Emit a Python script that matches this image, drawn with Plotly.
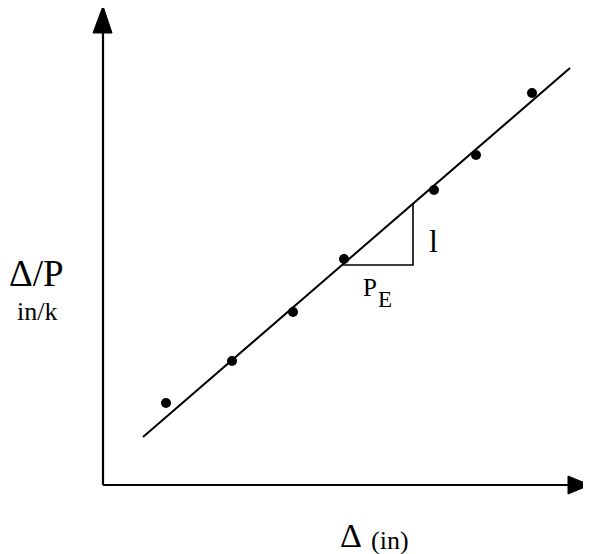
import plotly.graph_objects as go

# data (arbitrary units, origin at axis corner)
pts_x = [0.63, 1.29, 1.90, 2.41, 3.31, 3.73, 4.29]
pts_y = [0.82, 1.24, 1.73, 2.26, 2.95, 3.30, 3.92]
line_x = [0.40, 4.67]
line_y = [0.48, 4.17]
tri_x = [2.40, 3.10, 3.10]
tri_y = [2.20, 2.20, 2.81]

fig = go.Figure()
fig.add_trace(go.Scatter(x=line_x, y=line_y, mode="lines",
                         line=dict(color="black", width=2), hoverinfo="skip"))
fig.add_trace(go.Scatter(x=tri_x, y=tri_y, mode="lines",
                         line=dict(color="black", width=1.6), hoverinfo="skip"))
fig.add_trace(go.Scatter(x=pts_x, y=pts_y, mode="markers",
                         marker=dict(color="black", size=10), hoverinfo="skip"))

# axes with arrows
shapes = [
    dict(type="line", x0=0, y0=0, x1=0, y1=4.55, line=dict(color="black", width=2.2)),
    dict(type="line", x0=0, y0=0, x1=4.68, y1=0, line=dict(color="black", width=2.2)),
    dict(type="path", path="M -0.10 4.52 L 0 4.79 L 0.09 4.52 Z",
         fillcolor="black", line=dict(color="black", width=1)),
    dict(type="path", path="M 4.65 0.09 L 4.87 0 L 4.65 -0.09 Z",
         fillcolor="black", line=dict(color="black", width=1)),
]

serif = "Liberation Serif"
anns = [
    dict(x=-0.67, y=2.12, text="Δ/P", font=dict(size=37)),
    dict(x=-0.66, y=1.74, text="in/k", font=dict(size=26)),
    dict(x=2.48, y=-0.50, text="Δ", font=dict(size=34)),
    dict(x=2.87, y=-0.55, text="(in)", font=dict(size=26)),
    dict(x=3.30, y=2.44, text="l", font=dict(size=32)),
    dict(x=2.67, y=1.98, text="P", font=dict(size=25)),
    dict(x=2.82, y=1.86, text="E", font=dict(size=23)),
]
for a in anns:
    a.update(xref="x", yref="y", showarrow=False)
    a["font"].update(family=serif, color="black")

fig.update_layout(
    width=583, height=546,
    margin=dict(l=0, r=0, t=0, b=0),
    paper_bgcolor="white", plot_bgcolor="white",
    showlegend=False,
    xaxis=dict(range=[-0.95, 4.88], visible=False, fixedrange=True),
    yaxis=dict(range=[-0.69, 4.77], visible=False, fixedrange=True),
    shapes=shapes, annotations=anns,
)
fig.write_html("out.html")
